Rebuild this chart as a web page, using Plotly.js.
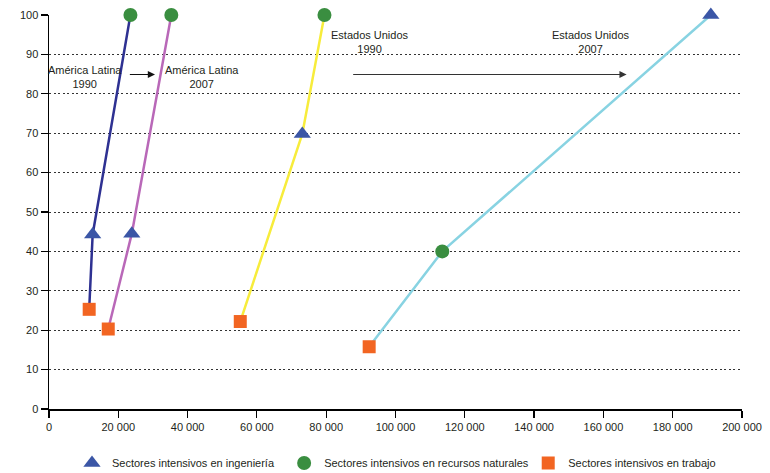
<!DOCTYPE html>
<html>
<head>
<meta charset="utf-8">
<script src="https://cdn.plot.ly/plotly-3.0.1.min.js"></script>
<style>html,body{margin:0;padding:0;background:#fff;}#chart{width:770px;height:473px;}</style>
</head>
<body>
<div id="chart"></div>
<script>
// ---- Data ----
var groups = ['América Latina 1990', 'América Latina 2007', 'Estados Unidos 1990', 'Estados Unidos 2007'];
var trabajoX = [11600, 17100, 55200, 92400];
var trabajoY = [25.3, 20.3, 22.2, 15.8];
var ingenieriaX = [12600, 23900, 73100, 191000];
var ingenieriaY = [44.3, 44.5, 69.8, 100];
var recursosX = [23500, 35300, 79500, 113500];
var recursosY = [100, 100, 100, 40];
var seriesNames = ['Sectores intensivos en ingeniería', 'Sectores intensivos en recursos naturales', 'Sectores intensivos en trabajo'];
var xTickVals = [0, 20000, 40000, 60000, 80000, 100000, 120000, 140000, 160000, 180000, 200000];
var xTickText = ['0', '20 000', '40 000', '60 000', '80 000', '100 000', '120 000', '140 000', '160 000', '180 000', '200 000'];
var yTickVals = [0, 10, 20, 30, 40, 50, 60, 70, 80, 90, 100];

// ---- Styles ----
var lineColors = ['#2E3192', '#B968B8', '#F7EC3B', '#88D3E2'];
var FONT = '"Liberation Sans Narrow", "Arial Narrow", "Liberation Sans", Arial, sans-serif';

var traces = [];
groups.forEach(function (g, i) {
  var pts = [[trabajoX[i], trabajoY[i]], [ingenieriaX[i], ingenieriaY[i]], [recursosX[i], recursosY[i]]];
  pts.sort(function (a, b) { return a[1] - b[1]; });
  traces.push({
    type: 'scatter', mode: 'lines', name: g, showlegend: false, hoverinfo: 'skip',
    x: pts.map(function (p) { return p[0]; }),
    y: pts.map(function (p) { return p[1]; }),
    line: { color: lineColors[i], width: 2.5 },
    cliponaxis: false
  });
});

traces.push({
  type: 'scatter', mode: 'markers', name: seriesNames[0], legend: 'legend',
  x: ingenieriaX, y: ingenieriaY, cliponaxis: false,
  marker: { symbol: 'triangle-up', size: 15, color: '#3B56A6' }
});
traces.push({
  type: 'scatter', mode: 'markers', name: seriesNames[1], legend: 'legend2',
  x: recursosX, y: recursosY, cliponaxis: false,
  marker: { symbol: 'circle', size: 14, color: '#3A8E40' }
});
traces.push({
  type: 'scatter', mode: 'markers', name: seriesNames[2], legend: 'legend3',
  x: trabajoX, y: trabajoY, cliponaxis: false,
  marker: { symbol: 'square', size: 13, color: '#F26522' }
});

var textFont = { family: FONT, size: 11, color: '#231F20' };
var legendBase = { orientation: 'h', xref: 'container', yref: 'container', yanchor: 'middle', y: 0.021, xanchor: 'left',
  font: { family: FONT, size: 11, color: '#231F20' }, bgcolor: 'rgba(0,0,0,0)', itemwidth: 30 };

var layout = {
  width: 770, height: 473,
  margin: { l: 49, r: 28, t: 15, b: 64 },
  paper_bgcolor: '#ffffff', plot_bgcolor: '#ffffff',
  font: { family: FONT, size: 11, color: '#231F20' },
  xaxis: {
    range: [0, 200000], tickvals: xTickVals, ticktext: xTickText, automargin: false,
    showgrid: false, zeroline: false, showline: true, linecolor: '#000', linewidth: 1.5,
    ticks: 'outside', ticklen: 7, tickcolor: '#000', tickwidth: 1.2,
    tickfont: { family: FONT, size: 11, color: '#231F20' }, fixedrange: true
  },
  yaxis: {
    range: [0, 100], tickvals: yTickVals, automargin: false,
    showgrid: true, gridcolor: '#333', gridwidth: 1, griddash: '2px,2.5px',
    zeroline: false, showline: true, linecolor: '#000', linewidth: 1.5,
    ticks: 'outside', ticklen: 7, tickcolor: '#000', tickwidth: 1.2,
    tickfont: { family: FONT, size: 11, color: '#231F20' }, fixedrange: true
  },
  legend: Object.assign({}, legendBase, { x: 0.0935 }),
  legend2: Object.assign({}, legendBase, { x: 0.369 }),
  legend3: Object.assign({}, legendBase, { x: 0.686 }),
  annotations: [
    { xref: 'x', yref: 'y', x: 10400, y: 84.3, text: 'América Latina<br>1990', showarrow: false, font: textFont, align: 'center' },
    { xref: 'x', yref: 'y', x: 44150, y: 84.3, text: 'América Latina<br>2007', showarrow: false, font: textFont, align: 'center' },
    { xref: 'x', yref: 'y', x: 92600, y: 93.1, text: 'Estados Unidos<br>1990', showarrow: false, font: textFont, align: 'center' },
    { xref: 'x', yref: 'y', x: 156300, y: 93.1, text: 'Estados Unidos<br>2007', showarrow: false, font: textFont, align: 'center' },
    { xref: 'x', yref: 'y', axref: 'x', ayref: 'y', x: 30600, y: 84.9, ax: 22900, ay: 84.9, text: '',
      showarrow: true, arrowhead: 2, arrowsize: 1.2, arrowwidth: 1.2, arrowcolor: '#111', standoff: 0, startstandoff: 0 },
    { xref: 'x', yref: 'y', axref: 'x', ayref: 'y', x: 166700, y: 84.9, ax: 87350, ay: 84.9, text: '',
      showarrow: true, arrowhead: 2, arrowsize: 1.2, arrowwidth: 1.2, arrowcolor: '#333', standoff: 0, startstandoff: 0 }
  ],
  showlegend: true
};

Plotly.newPlot('chart', traces, layout, { displayModeBar: false, staticPlot: true });
</script>
</body>
</html>
